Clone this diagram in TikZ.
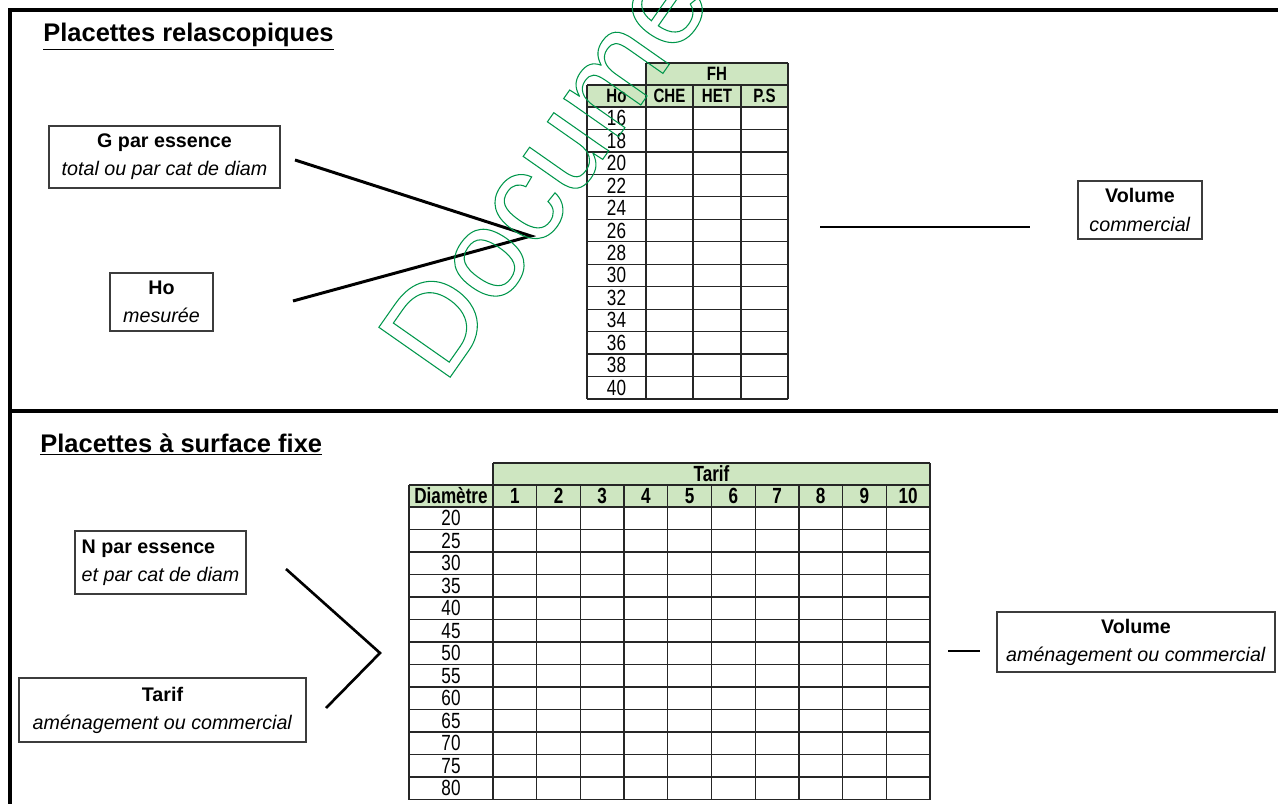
\documentclass[tikz,border=0pt]{standalone}
\usepackage{fontspec}
\setmainfont{Liberation Sans}
\newfontfamily\narrowfont{Liberation Sans}[FakeStretch=0.78]
\usepackage{xcolor}
\definecolor{hdrgreen}{RGB}{206,230,193}
\definecolor{wmgreen}{RGB}{0,150,75}
\definecolor{boxgray}{RGB}{60,60,60}
\newcommand{\outlinetext}[1]{\special{pdf:literal direct 1 Tr 0.6 w}#1\special{pdf:literal direct 0 Tr}}

\begin{document}
\begin{tikzpicture}[x=0.02cm,y=-0.02cm,
  frame/.style={line width=2pt},
  title/.style={anchor=base west,inner sep=0pt,font=\fontsize{14.5}{17}\selectfont\bfseries},
  infobox/.style={draw=boxgray,line width=0.7pt,align=center,inner sep=2pt,font=\fontsize{11.2}{16}\selectfont},
  link/.style={line width=1.7pt},
  grid/.style={draw=black!85,line width=0.7pt},
  cellhead/.style={inner sep=0pt,font=\narrowfont\fontsize{11}{12}\selectfont\bfseries},
  cellnum/.style={inner sep=0pt,font=\narrowfont\fontsize{12.5}{13}\selectfont},
  watermark/.style={text=wmgreen,inner sep=0pt,font=\fontsize{72}{72}\selectfont}]
\useasboundingbox (0,0) rectangle (1278,804);

% frame
\draw[frame] (10,810) -- (10,10) -- (1285,10);
\draw[frame] (10,411) -- (1285,411);

% upper part
\node[title] (t1) at (43,42) {\underline{Placettes relascopiques}};
\node[infobox,minimum width=4.62cm,minimum height=1.24cm] (gbox) at (164.5,157)
  {\textbf{G par essence}\\\textit{total ou par cat de diam}};
\node[infobox,minimum width=2.06cm,minimum height=1.16cm] (hobox) at (161.5,302)
  {\textbf{Ho}\\\textit{mesurée}};
\node[infobox,minimum width=2.48cm,minimum height=1.16cm] (vol1) at (1140,210)
  {\textbf{Volume}\\\textit{commercial}};

\fill[hdrgreen] (646,63) rectangle (788,85);
\fill[hdrgreen] (587,85) rectangle (788,107);
\draw[grid] (646,63) -- (788,63);
\foreach \i in {0,...,13}
  \draw[grid] (587,{107+\i*22.46}) -- (788,{107+\i*22.46});
\draw[grid] (587,85) -- (788,85);
\foreach \xx in {587,693,741}
  \draw[grid] (\xx,85) -- (\xx,399);
\foreach \xx in {646,788}
  \draw[grid] (\xx,63) -- (\xx,399);
\node[cellhead] (fh) at (717,74) {FH};
\foreach \xa/\xb/\t in {587/646/Ho,646/693/CHE,693/741/HET,741/788/P.S}
  \node[cellhead] at ({(\xa+\xb)/2},96) {\t};
\foreach \v [count=\i from 0] in {16,18,...,40}
  \node[cellnum] at (616.5,{118.2+\i*22.46}) {\v};

\coordinate (gend) at (295,160);
\coordinate (hoend) at (293,301);
\coordinate (join1) at (531,236);
\coordinate (out1a) at (820,227);
\coordinate (out1b) at (1030,227);
\draw[link] (gend) -- (join1) -- (hoend);
\draw[link] (out1a) -- (out1b);

% lower part
\node[title] (t2) at (40,452) {\underline{Placettes à surface fixe}};
\node[infobox,align=left,minimum width=3.42cm,minimum height=1.26cm] (nbox) at (160.5,562.5)
  {\textbf{N par essence}\\\textit{et par cat de diam}};
\node[infobox,minimum width=5.74cm,minimum height=1.28cm] (tarbox) at (162.5,710)
  {\textbf{Tarif}\\\textit{aménagement ou commercial}};
\node[infobox,minimum width=5.56cm,minimum height=1.2cm] (vol2) at (1136,642)
  {\textbf{Volume}\\\textit{aménagement ou commercial}};

\fill[hdrgreen] (493,463) rectangle (930,485);
\fill[hdrgreen] (409,485) rectangle (930,507);
\draw[grid] (493,463) -- (930,463);
\draw[grid] (409,485) -- (930,485);
\foreach \i in {0,...,13}
  \draw[grid] (409,{507+\i*22.5}) -- (930,{507+\i*22.5});
\draw[grid] (409,485) -- (409,799.5);
\foreach \k in {0,...,10}
  \draw[grid] ({493+\k*43.7},{\k==0||\k==10?463:485}) -- ({493+\k*43.7},799.5);
\node[cellhead,font=\narrowfont\fontsize{12.5}{13}\selectfont\bfseries] (tarif) at (711.5,474) {Tarif};
\node[cellhead,font=\narrowfont\fontsize{12.5}{13}\selectfont\bfseries] (diam) at (451,496) {Diamètre};
\foreach \k in {1,...,10}
  \node[cellhead,font=\narrowfont\fontsize{12.5}{13}\selectfont\bfseries] at ({493+(\k-0.5)*43.7},496) {\k};
\foreach \v [count=\i from 0] in {20,25,...,80}
  \node[cellnum] at (451,{518.2+\i*22.5}) {\v};

\coordinate (nend) at (286,569);
\coordinate (tend) at (326,708);
\coordinate (join2) at (380,653);
\coordinate (out2a) at (948,651);
\coordinate (out2b) at (980,651);
\draw[link,line width=1.5pt] (nend) -- (join2) -- (tend);
\draw[link,line width=1.3pt] (out2a) -- (out2b);

% watermark
\node[watermark,rotate=55,anchor=base west] (wm) at (444,386) {\outlinetext{Document}};
\end{tikzpicture}
\end{document}
